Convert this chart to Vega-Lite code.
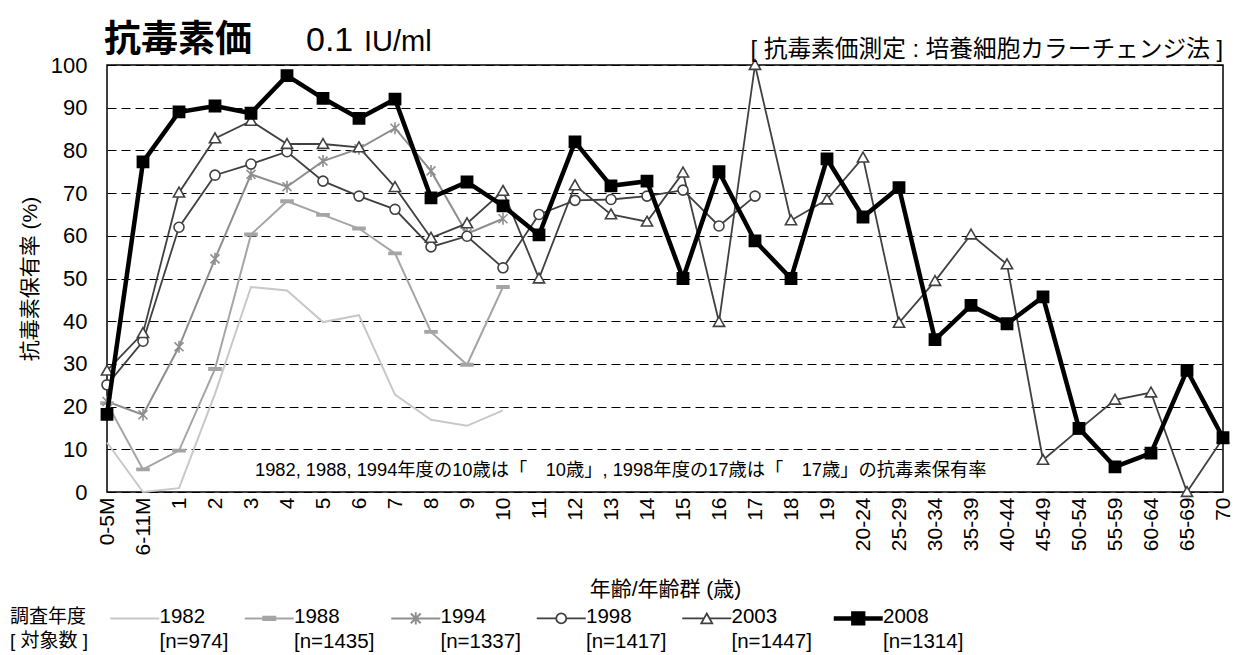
{
  "$schema": "https://vega.github.io/schema/vega-lite/v6.json",
  "width": 1116,
  "height": 427,
  "autosize": {"type": "none"},
  "padding": {"left": 107, "top": 65, "right": 16, "bottom": 163},
  "background": "white",
  "config": {
    "view": {"stroke": "black", "strokeWidth": 1.5},
    "font": "Liberation Sans, Noto Sans CJK JP"
  },
  "layer": [
    {
      "data": {
        "values": [
          {"year":"1982","age":"0-5M","v":11.6},{"year":"1982","age":"6-11M","v":0},{"year":"1982","age":"1","v":0.9},{"year":"1982","age":"2","v":23},{"year":"1982","age":"3","v":48},{"year":"1982","age":"4","v":47.2},{"year":"1982","age":"5","v":39.8},{"year":"1982","age":"6","v":41.4},{"year":"1982","age":"7","v":22.8},{"year":"1982","age":"8","v":16.9},{"year":"1982","age":"9","v":15.5},{"year":"1982","age":"10","v":19.1},
          {"year":"1988","age":"0-5M","v":20.8},{"year":"1988","age":"6-11M","v":5.3},{"year":"1988","age":"1","v":9.7},{"year":"1988","age":"2","v":28.8},{"year":"1988","age":"3","v":60.3},{"year":"1988","age":"4","v":68.1},{"year":"1988","age":"5","v":64.9},{"year":"1988","age":"6","v":61.7},{"year":"1988","age":"7","v":55.9},{"year":"1988","age":"8","v":37.5},{"year":"1988","age":"9","v":29.8},{"year":"1988","age":"10","v":48},
          {"year":"1994","age":"0-5M","v":21.2},{"year":"1994","age":"6-11M","v":18.1},{"year":"1994","age":"1","v":34},{"year":"1994","age":"2","v":54.6},{"year":"1994","age":"3","v":74.4},{"year":"1994","age":"4","v":71.5},{"year":"1994","age":"5","v":77.5},{"year":"1994","age":"6","v":80.4},{"year":"1994","age":"7","v":85.2},{"year":"1994","age":"8","v":75.2},{"year":"1994","age":"9","v":60.5},{"year":"1994","age":"10","v":64},
          {"year":"1998","age":"0-5M","v":25.1},{"year":"1998","age":"6-11M","v":35.3},{"year":"1998","age":"1","v":62},{"year":"1998","age":"2","v":74.2},{"year":"1998","age":"3","v":76.8},{"year":"1998","age":"4","v":79.7},{"year":"1998","age":"5","v":72.8},{"year":"1998","age":"6","v":69.3},{"year":"1998","age":"7","v":66.2},{"year":"1998","age":"8","v":57.4},{"year":"1998","age":"9","v":59.9},{"year":"1998","age":"10","v":52.5},{"year":"1998","age":"11","v":65},{"year":"1998","age":"12","v":68.3},{"year":"1998","age":"13","v":68.5},{"year":"1998","age":"14","v":69.3},{"year":"1998","age":"15","v":70.7},{"year":"1998","age":"16","v":62.3},{"year":"1998","age":"17","v":69.3},
          {"year":"2003","age":"0-5M","v":28.4},{"year":"2003","age":"6-11M","v":37.2},{"year":"2003","age":"1","v":70.1},{"year":"2003","age":"2","v":82.8},{"year":"2003","age":"3","v":86.9},{"year":"2003","age":"4","v":81.5},{"year":"2003","age":"5","v":81.5},{"year":"2003","age":"6","v":80.7},{"year":"2003","age":"7","v":71.4},{"year":"2003","age":"8","v":59.5},{"year":"2003","age":"9","v":62.9},{"year":"2003","age":"10","v":70.5},{"year":"2003","age":"11","v":50},{"year":"2003","age":"12","v":71.8},{"year":"2003","age":"13","v":65},{"year":"2003","age":"14","v":63.3},{"year":"2003","age":"15","v":74.8},{"year":"2003","age":"16","v":39.8},{"year":"2003","age":"17","v":100},{"year":"2003","age":"18","v":63.6},{"year":"2003","age":"19","v":68.5},{"year":"2003","age":"20-24","v":78.3},{"year":"2003","age":"25-29","v":39.6},{"year":"2003","age":"30-34","v":49.4},{"year":"2003","age":"35-39","v":60.3},{"year":"2003","age":"40-44","v":53.3},{"year":"2003","age":"45-49","v":7.5},{"year":"2003","age":"50-54","v":14.6},{"year":"2003","age":"55-59","v":21.6},{"year":"2003","age":"60-64","v":23.3},{"year":"2003","age":"65-69","v":0},{"year":"2003","age":"70","v":12.6},
          {"year":"2008","age":"0-5M","v":18.2},{"year":"2008","age":"6-11M","v":77.3},{"year":"2008","age":"1","v":89},{"year":"2008","age":"2","v":90.4},{"year":"2008","age":"3","v":88.7},{"year":"2008","age":"4","v":97.5},{"year":"2008","age":"5","v":92.2},{"year":"2008","age":"6","v":87.5},{"year":"2008","age":"7","v":92},{"year":"2008","age":"8","v":68.9},{"year":"2008","age":"9","v":72.6},{"year":"2008","age":"10","v":67},{"year":"2008","age":"11","v":60.2},{"year":"2008","age":"12","v":82},{"year":"2008","age":"13","v":71.7},{"year":"2008","age":"14","v":72.8},{"year":"2008","age":"15","v":50},{"year":"2008","age":"16","v":75},{"year":"2008","age":"17","v":58.8},{"year":"2008","age":"18","v":50},{"year":"2008","age":"19","v":78},{"year":"2008","age":"20-24","v":64.4},{"year":"2008","age":"25-29","v":71.3},{"year":"2008","age":"30-34","v":35.7},{"year":"2008","age":"35-39","v":43.7},{"year":"2008","age":"40-44","v":39.4},{"year":"2008","age":"45-49","v":45.7},{"year":"2008","age":"50-54","v":14.9},{"year":"2008","age":"55-59","v":5.9},{"year":"2008","age":"60-64","v":9.1},{"year":"2008","age":"65-69","v":28.5},{"year":"2008","age":"70","v":12.7}
        ]
      },
      "encoding": {
        "x": {
          "field": "age",
          "type": "ordinal",
          "scale": {
            "type": "point",
            "padding": 0,
            "domain": ["0-5M","6-11M","1","2","3","4","5","6","7","8","9","10","11","12","13","14","15","16","17","18","19","20-24","25-29","30-34","35-39","40-44","45-49","50-54","55-59","60-64","65-69","70"]
          },
          "axis": {
            "labelAngle": -90,
            "labelAlign": "right",
            "labelBaseline": "middle",
            "ticks": false,
            "domain": false,
            "grid": false,
            "labelFontSize": 21,
            "labelColor": "black",
            "labelPadding": 5,
            "title": "年齢/年齢群 (歳)",
            "titleFontSize": 21,
            "titleFontWeight": "normal",
            "titleColor": "black",
            "titlePadding": 24
          }
        },
        "y": {
          "field": "v",
          "type": "quantitative",
          "scale": {"domain": [0, 100], "nice": false},
          "axis": {
            "values": [0,10,20,30,40,50,60,70,80,90,100],
            "ticks": false,
            "domain": false,
            "grid": true,
            "gridColor": "black",
            "gridDash": [9, 5],
            "gridWidth": 1,
            "labelFontSize": 22,
            "labelColor": "black",
            "labelPadding": 20,
            "title": "抗毒素保有率 (%)",
            "titleFontSize": 21,
            "titleFontWeight": "normal",
            "titleColor": "black",
            "titlePadding": 10
          }
        },
        "stroke": {
          "field": "year",
          "type": "nominal",
          "scale": {
            "domain": ["1982","1988","1994","1998","2003","2008"],
            "range": ["#c8c8c8","#a5a5a5","#8e8e8e","#404040","#404040","#000000"]
          },
          "legend": {
            "orient": "none",
            "legendX": -97,
            "legendY": 543,
            "direction": "horizontal",
            "columns": 6,
            "title": ["調査年度", "[ 対象数 ]"],
            "titleOrient": "left",
            "titleAnchor": "start",
            "titleFontSize": 19,
            "titleFontWeight": "normal",
            "titleColor": "black",
            "titleLineHeight": 24,
            "titleBaseline": "top",
            "titlePadding": 35.5,
            "symbolSize": 2401,
            "symbolType": "M-1,0H1",
            "symbolStrokeWidth": 2,
            "labelFontSize": 20.5,
            "labelColor": "black",
            "labelOffset": 14.5,
            "labelBaseline": "top",
            "labelLimit": 300,
            "columnPadding": 11.5,
            "labelExpr": "[datum.label, datum.label == '1982' ? '[n=974]' : datum.label == '1988' ? '[n=1435]' : datum.label == '1994' ? '[n=1337]' : datum.label == '1998' ? '[n=1417]' : datum.label == '2003' ? '[n=1447]' : '[n=1314]']",
            "encode": {
              "symbols": {
                "update": {
                  "size": {"value": 2401},
                  "shape": {"signal": "datum.value == '1982' ? 'M-1,0H1' : datum.value == '1988' ? 'M-1,0H1M-0.245,-0.07H0.245V0.07H-0.245Z' : datum.value == '1994' ? 'M-1,0H1M-0.2,-0.2L0.2,0.2M-0.2,0.2L0.2,-0.2M0,-0.245V0.245' : datum.value == '1998' ? 'M-1,0H-0.204M0.204,0H1M-0.204,0A0.204,0.204 0 1,0 0.204,0A0.204,0.204 0 1,0 -0.204,0Z' : datum.value == '2003' ? 'M-1,0H-0.112M0.112,0H1M0,-0.2L0.224,0.2H-0.224Z' : 'M-1,0H1M-0.2,-0.2H0.2V0.2H-0.2Z'"},
                  "fill": {"signal": "datum.value == '2008' ? '#000000' : datum.value == '1988' ? '#a5a5a5' : (datum.value == '1998' || datum.value == '2003') ? '#ffffff' : 'transparent'"},
                  "strokeWidth": {"signal": "datum.value == '2008' ? 4.5 : (datum.value == '1998' || datum.value == '2003') ? 1.8 : 2"},
                  "opacity": {"value": 1}
                }
              },
              "labels": {
                "update": {
                  "lineHeight": {"value": 25},
                  "dy": {"value": -11}
                }
              }
            }
          }
        },
        "order": {"value": null}
      },
      "layer": [
        {
          "transform": [{"filter": "datum.year == '1982' || datum.year == '1988' || datum.year == '1994'"}],
          "mark": {"type": "line", "strokeWidth": 2}
        },
        {
          "transform": [{"filter": "datum.year == '1998' || datum.year == '2003'"}],
          "mark": {"type": "line", "strokeWidth": 1.8}
        },
        {
          "transform": [{"filter": "datum.year != '1982' && datum.year != '2008'"}],
          "mark": {"type": "point", "size": 196, "strokeWidth": 1.6, "opacity": 1},
          "encoding": {
            "shape": {
              "field": "year",
              "type": "nominal",
              "scale": {
                "domain": ["1988","1994","1998","2003","2008"],
                "range": ["M-0.857,-0.16H0.857V0.16H-0.857Z", "M-0.64,-0.64L0.64,0.64M-0.64,0.64L0.64,-0.64M0,-0.86V0.86", "M-0.714,0A0.714,0.714 0 1,0 0.714,0A0.714,0.714 0 1,0 -0.714,0Z", "M0,-0.78L0.8,0.62H-0.8Z", "M-0.8,-0.8H0.8V0.8H-0.8Z"]
              },
              "legend": null
            },
            "fill": {
              "field": "year",
              "type": "nominal",
              "scale": {
                "domain": ["1988","1994","1998","2003","2008"],
                "range": ["#a5a5a5","transparent","#ffffff","#ffffff","#000000"]
              },
              "legend": null
            }
          }
        },
        {
          "transform": [{"filter": "datum.year == '2008'"}],
          "mark": {"type": "line", "strokeWidth": 4.5}
        },
        {
          "transform": [{"filter": "datum.year == '2008'"}],
          "mark": {"type": "point", "size": 196, "strokeWidth": 1.6, "opacity": 1},
          "encoding": {
            "shape": {"field": "year", "type": "nominal", "legend": null},
            "fill": {"field": "year", "type": "nominal", "legend": null}
          }
        }
      ]
    },
    {
      "data": {"values": [{"label": "抗毒素価"}]},
      "mark": {"type": "text", "align": "left", "baseline": "alphabetic", "fontSize": 37, "fontWeight": "bold", "font": "Noto Sans CJK JP", "color": "black", "dx": -3, "dy": -13},
      "encoding": {"x": {"datum": "0-5M", "type": "ordinal"}, "y": {"datum": 100, "type": "quantitative"}, "text": {"field": "label", "type": "nominal"}}
    },
    {
      "data": {"values": [{"label": "0.1"}]},
      "mark": {"type": "text", "align": "left", "baseline": "alphabetic", "fontSize": 34, "font": "Liberation Sans", "color": "black", "dx": 19, "dy": -14},
      "encoding": {"x": {"datum": "4", "type": "ordinal"}, "y": {"datum": 100, "type": "quantitative"}, "text": {"field": "label", "type": "nominal"}}
    },
    {
      "data": {"values": [{"label": "IU/ml"}]},
      "mark": {"type": "text", "align": "left", "baseline": "alphabetic", "fontSize": 29, "font": "Liberation Sans", "color": "black", "dx": 5, "dy": -14},
      "encoding": {"x": {"datum": "6", "type": "ordinal"}, "y": {"datum": 100, "type": "quantitative"}, "text": {"field": "label", "type": "nominal"}}
    },
    {
      "data": {"values": [{"label": "[ 抗毒素価測定 : 培養細胞カラーチェンジ法 ]"}]},
      "mark": {"type": "text", "align": "right", "baseline": "alphabetic", "fontSize": 23.7, "color": "black", "dy": -8},
      "encoding": {"x": {"datum": "70", "type": "ordinal"}, "y": {"datum": 100, "type": "quantitative"}, "text": {"field": "label", "type": "nominal"}}
    },
    {
      "data": {"values": [{"label": "1982, 1988, 1994年度の10歳は「　10歳」, 1998年度の17歳は「　17歳」の抗毒素保有率"}]},
      "mark": {"type": "text", "align": "left", "baseline": "middle", "fontSize": 18.3, "color": "black", "dx": 4},
      "encoding": {"x": {"datum": "3", "type": "ordinal"}, "y": {"datum": 5, "type": "quantitative"}, "text": {"field": "label", "type": "nominal"}}
    }
  ]
}
